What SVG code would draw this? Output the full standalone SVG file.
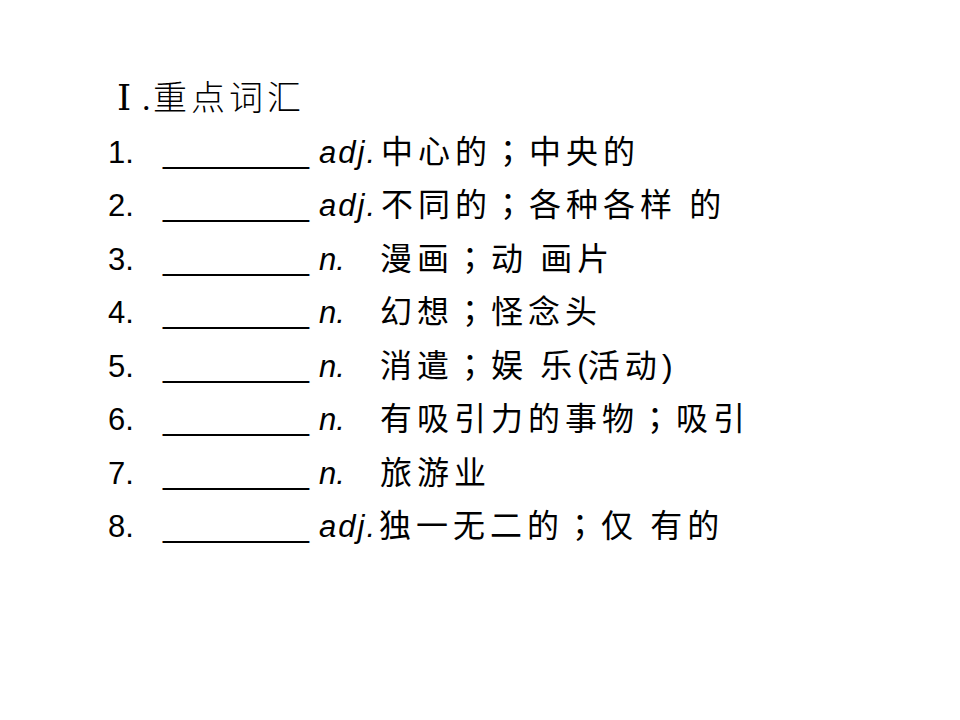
<svg xmlns="http://www.w3.org/2000/svg" width="960" height="720" viewBox="0 0 960 720">
<style>
  .t { font-family: "Liberation Sans", "Noto Sans CJK SC", sans-serif; font-size: 31px; fill: #000; }
  .u { font-family: "Liberation Sans", sans-serif; font-size: 31px; fill: #000; }
  .cn { font-family: "Noto Sans CJK SC", sans-serif; font-size: 32px; letter-spacing: 5px; fill: #000; }
  .sc { font-family: "Noto Sans CJK TC", sans-serif; }
  .it { font-style: italic; }
  .title { font-family: "Noto Sans CJK SC", sans-serif; font-size: 34px; font-weight: 300; fill: #000; }
</style>
<rect width="960" height="720" fill="#fff"/>
<g id="title">
  <text class="title" y="110"><tspan x="117" font-family="DejaVu Serif, serif" font-size="36">Ⅰ</tspan><tspan x="142" font-family="Liberation Serif, serif">.</tspan><tspan x="153" letter-spacing="4">重点词汇</tspan></text>
</g>
<g id="items">
  <g id="item1">
    <text class="t" x="108" y="163">1.</text>
    <text class="u" x="163" y="163" textLength="146" lengthAdjust="spacingAndGlyphs">________</text>
    <text class="t it" x="319" y="163" textLength="56" lengthAdjust="spacing">adj.</text>
    <text class="cn" x="381" y="163">中心的<tspan class="sc">；</tspan>中央的</text>
  </g>
  <g id="item2">
    <text class="t" x="108" y="216">2.</text>
    <text class="u" x="163" y="216" textLength="146" lengthAdjust="spacingAndGlyphs">________</text>
    <text class="t it" x="319" y="216" textLength="56" lengthAdjust="spacing">adj.</text>
    <text class="cn" x="381" y="216">不同的<tspan class="sc">；</tspan>各种各样 的</text>
  </g>
  <g id="item3">
    <text class="t" x="108" y="270">3.</text>
    <text class="u" x="163" y="270" textLength="146" lengthAdjust="spacingAndGlyphs">________</text>
    <text class="t it" x="319" y="270">n.</text>
    <text class="cn" x="380" y="270">漫画<tspan class="sc">；</tspan>动 画片</text>
  </g>
  <g id="item4">
    <text class="t" x="108" y="323">4.</text>
    <text class="u" x="163" y="323" textLength="146" lengthAdjust="spacingAndGlyphs">________</text>
    <text class="t it" x="319" y="323">n.</text>
    <text class="cn" x="380" y="323">幻想<tspan class="sc">；</tspan>怪念头</text>
  </g>
  <g id="item5">
    <text class="t" x="108" y="377">5.</text>
    <text class="u" x="163" y="377" textLength="146" lengthAdjust="spacingAndGlyphs">________</text>
    <text class="t it" x="319" y="377">n.</text>
    <text class="cn" x="380" y="377">消遣<tspan class="sc">；</tspan>娱 乐<tspan font-family="Liberation Sans" letter-spacing="0">(</tspan>活动<tspan font-family="Liberation Sans" letter-spacing="0">)</tspan></text>
  </g>
  <g id="item6">
    <text class="t" x="108" y="430">6.</text>
    <text class="u" x="163" y="430" textLength="146" lengthAdjust="spacingAndGlyphs">________</text>
    <text class="t it" x="319" y="430">n.</text>
    <text class="cn" x="380" y="430">有吸引力的事物<tspan class="sc">；</tspan>吸引</text>
  </g>
  <g id="item7">
    <text class="t" x="108" y="484">7.</text>
    <text class="u" x="163" y="484" textLength="146" lengthAdjust="spacingAndGlyphs">________</text>
    <text class="t it" x="319" y="484">n.</text>
    <text class="cn" x="380" y="484">旅游业</text>
  </g>
  <g id="item8">
    <text class="t" x="108" y="537">8.</text>
    <text class="u" x="163" y="537" textLength="146" lengthAdjust="spacingAndGlyphs">________</text>
    <text class="t it" x="319" y="537" textLength="56" lengthAdjust="spacing">adj.</text>
    <text class="cn" x="379" y="537">独一无二的<tspan class="sc">；</tspan>仅 有的</text>
  </g>
</g>
<g id="connectors"></g>
</svg>
